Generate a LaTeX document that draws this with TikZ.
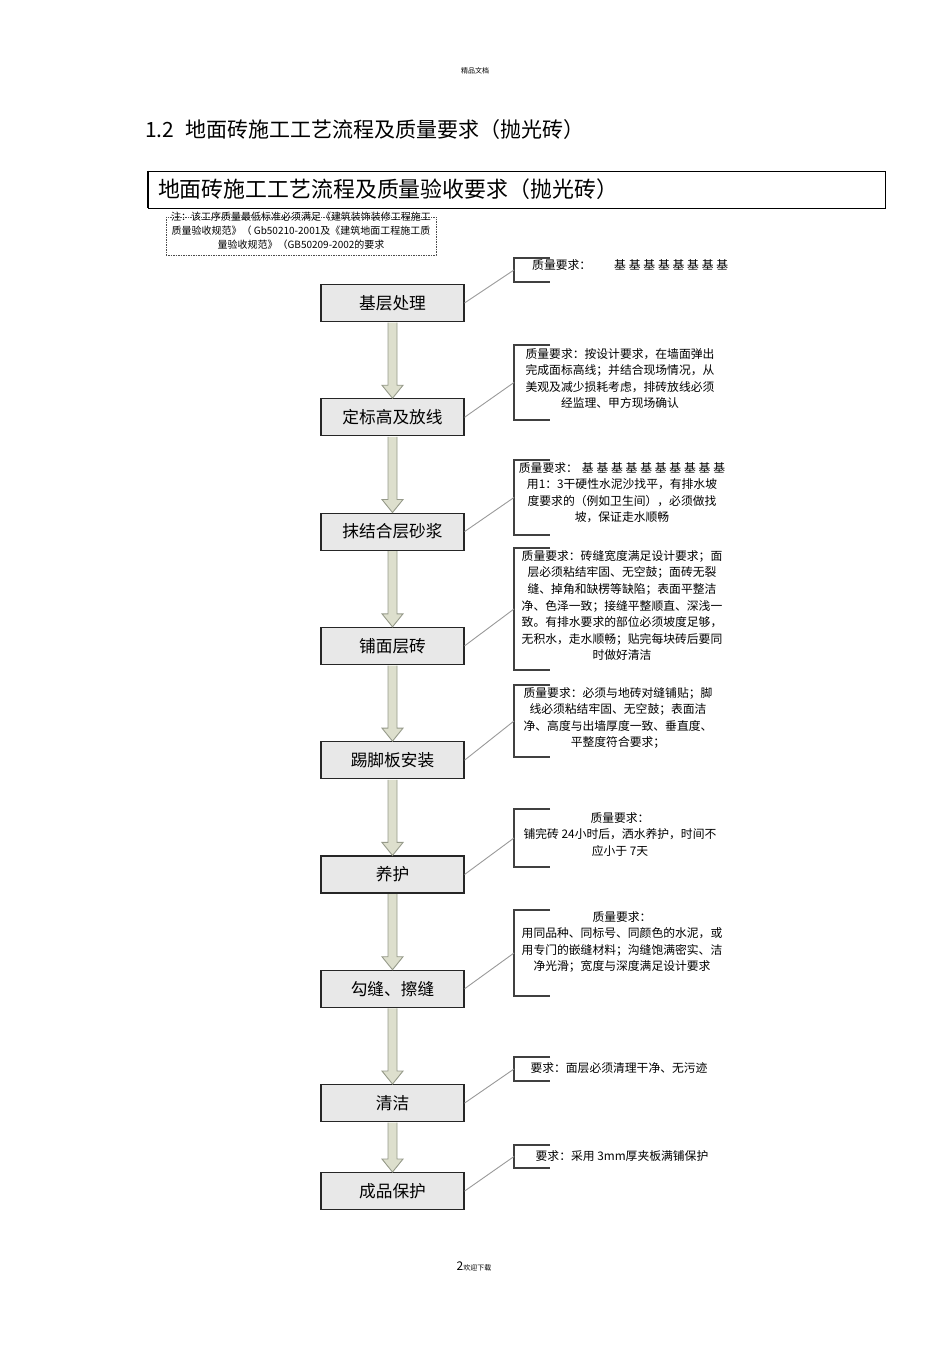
\documentclass[tikz,border=0pt]{standalone}
\usepackage{fontspec}
\setmainfont{Noto Sans CJK SC}
\usetikzlibrary{positioning,calc}
\definecolor{boxfill}{RGB}{232,232,232}
\definecolor{arrowfill}{RGB}{221,223,205}
\definecolor{arrowedge}{RGB}{150,154,138}
\newcommand{\jichar}{基\kern2.8pt}

\begin{document}
\begin{tikzpicture}[x=1pt,y=1pt,node distance=114.3pt,on grid,
  stepbox/.style={draw=black!85,line width=1.1pt,fill=boxfill,minimum width=143pt,minimum height=37pt,inner sep=0pt,font=\fontsize{16.7}{18}\selectfont},
  reqtext/.style={anchor=north,align=center,inner sep=0pt,font=\fontsize{11.8}{16.6}\selectfont},
  reqline/.style={draw=black!75,line width=1.1pt},
  leader/.style={draw=black!40,line width=0.9pt},
  flowarrow/.style={fill=arrowfill,draw=arrowedge,line width=0.9pt,line join=miter}]
\useasboundingbox (0,0) rectangle (950,1345);

\node[font=\fontsize{7}{8}\selectfont] (head) at (475,1274) {精品文档};
\node[anchor=west,inner sep=0pt,font=\fontsize{21}{22}\selectfont] (sec) at (145,1215) {1.2\hspace{11pt}地面砖施工工艺流程及质量要求（抛光砖）};

\node[draw,line width=0.9pt,minimum width=737pt,minimum height=37pt,text width=717pt,inner xsep=10pt,align=left,font=\fontsize{21.9}{23}\selectfont] (title) at (516.5,1155.5) {地面砖施工工艺流程及质量验收要求（抛光砖）};
\draw[line width=2pt] (title.north west) -- (title.south west);

\draw[black!70,line width=0.8pt,dash pattern=on 1.5pt off 1pt] (166,1128) rectangle (436,1090);
\node[anchor=north,align=center,inner sep=0pt,font=\fontsize{10}{14}\selectfont] (note) at (301,1133) {注：该工序质量最低标准必须满足《建筑装饰装修工程施工\\质量验收规范》（ Gb50210-2001及《建筑地面工程施工质\\量验收规范》（GB50209-2002的要求};

\node[stepbox] (p_1) at (392.5,1042) {基层处理};
\node[stepbox] (p_2) [below=of p_1] {定标高及放线};
\node[stepbox] (p_3) [below=of p_2] {抹结合层砂浆};
\node[stepbox] (p_4) [below=of p_3] {铺面层砖};
\node[stepbox] (p_5) [below=of p_4] {踢脚板安装};
\node[stepbox] (p_6) [below=of p_5] {养护};
\node[stepbox] (p_7) [below=of p_6] {勾缝、擦缝};
\node[stepbox] (p_8) [below=of p_7] {清洁};
\node[stepbox] (p_9) [below=88pt of p_8] {成品保护};

\foreach \a/\b in {1/2,2/3,3/4,4/5,5/6,6/7,7/8,8/9}
  \draw[flowarrow] ($(p_\a.south)+(-4.5,-0.6)$) -- ($(p_\b.north)+(-4.5,13)$) -- ($(p_\b.north)+(-10.5,13)$) -- (p_\b.north) -- ($(p_\b.north)+(10.5,13)$) -- ($(p_\b.north)+(4.5,13)$) -- ($(p_\a.south)+(4.5,-0.6)$);

% brackets for the requirements
\foreach \n/\t/\b in {1/1087/1063,2/1000/925,3/885/810,4/797/675,5/660/588,6/536/478,7/435/349,8/288/264,9/200/177}{
  \draw[reqline] (550,\t) -- (514,\t) -- (514,\b) -- (550,\b);
  \coordinate (b_\n) at (514,{(\t+\b)/2});
}
\foreach \n in {1,...,9}
  \draw[leader] (p_\n.east) -- (b_\n);

\node[reqtext,anchor=west] (r_1) at (532,1080) {质量要求：\hspace{23pt}\jichar\jichar\jichar\jichar\jichar\jichar\jichar 基};
\node[reqtext] (r_2) at (620,997) {质量要求：按设计要求，在墙面弹出\\完成面标高线；并结合现场情况，从\\美观及减少损耗考虑，排砖放线必须\\经监理、甲方现场确认};
\node[reqtext] (r_3) at (622,883) {质量要求：\hspace{4pt}\jichar\jichar\jichar\jichar\jichar\jichar\jichar\jichar\jichar 基\\用1：3干硬性水泥沙找平，有排水坡\\度要求的（例如卫生间），必须做找\\坡，保证走水顺畅};
\node[reqtext] (r_4) at (622,795) {质量要求：砖缝宽度满足设计要求；面\\层必须粘结牢固、无空鼓；面砖无裂\\缝、掉角和缺楞等缺陷；表面平整洁\\净、色泽一致；接缝平整顺直、深浅一\\致。有排水要求的部位必须坡度足够，\\无积水，走水顺畅；贴完每块砖后要同\\时做好清洁};
\node[reqtext] (r_5) at (618,658) {质量要求：必须与地砖对缝铺贴；脚\\线必须粘结牢固、无空鼓；表面洁\\净、高度与出墙厚度一致、垂直度、\\平整度符合要求；};
\node[reqtext] (r_6) at (620,533) {质量要求：\\铺完砖 24小时后，洒水养护，时间不\\应小于 7天};
\node[reqtext] (r_7) at (622,434) {质量要求：\\用同品种、同标号、同颜色的水泥，或\\用专门的嵌缝材料；沟缝饱满密实、洁\\净光滑；宽度与深度满足设计要求};
\node[reqtext] (r_8) at (619,283) {要求：面层必须清理干净、无污迹};
\node[reqtext] (r_9) at (622,195) {要求：采用 3mm厚夹板满铺保护};

\node (foot) at (474,79) {{\fontsize{12}{13}\selectfont 2}{\fontsize{7}{8}\selectfont 欢迎下载}};
\end{tikzpicture}
\end{document}
